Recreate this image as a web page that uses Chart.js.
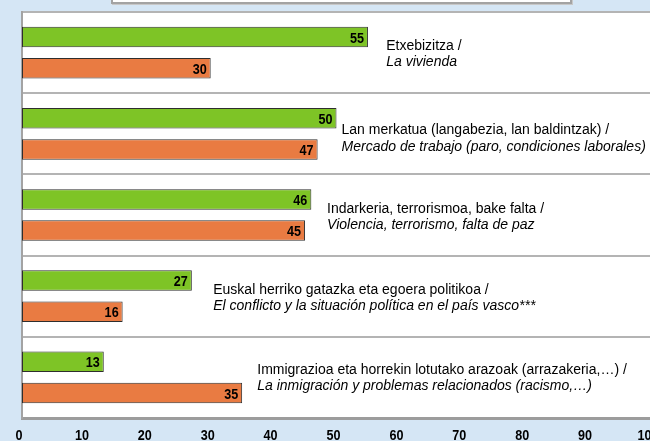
<!DOCTYPE html>
<html>
<head>
<meta charset="utf-8">
<script src="https://cdn.jsdelivr.net/npm/chart.js@4/dist/chart.umd.min.js"></script>
<style>
  html, body { margin:0; padding:0; width:650px; height:441px; overflow:hidden; background:#d5e6f5; }
  #wrap { position:absolute; left:0; top:0; width:660px; height:441px; }
  #legendBox { position:absolute; left:111px; top:-12px; width:457px; height:12px; background:#fff;
    border:2px solid #a3a3a3; box-shadow:1px 1px 0 #c8c8c8; }
</style>
</head>
<body>
<div id="wrap"><canvas id="c" width="660" height="441"></canvas></div>
<div id="legendBox"></div>
<script>
// ---- data ----
const categoriesEu = [
  "Etxebizitza /",
  "Lan merkatua (langabezia, lan baldintzak) /",
  "Indarkeria, terrorismoa, bake falta /",
  "Euskal herriko gatazka eta egoera politikoa /",
  "Immigrazioa eta horrekin lotutako arazoak (arrazakeria,…) /"
];
const categoriesEs = [
  "La vivienda",
  "Mercado de trabajo (paro, condiciones laborales)",
  "Violencia, terrorismo, falta de paz",
  "El conflicto y la situación política en el país vasco***",
  "La inmigración y problemas relacionados (racismo,…)"
];
const greenValues  = [55, 50, 46, 27, 13];
const orangeValues = [30, 47, 45, 16, 35];
const xTickValues  = [0, 10, 20, 30, 40, 50, 60, 70, 80, 90, 100];

// ---- label placement (axis units / pixel offsets) ----
const labelAnchorX = [57.9, 50.8, 48.5, 30.4, 37.4];
const labelDy1 = [-6.5, -3.5, -6, -6, -7];
const labelDy2 = [9.5, 13.5, 10, 10, 9];

const REG = "'Liberation Sans', Arial, sans-serif";
const NARROW_SX = 0.84;

const bgPlugin = {
  id: 'bg',
  beforeDraw(chart) {
    const {ctx, chartArea:a} = chart;
    ctx.save();
    ctx.fillStyle = '#d5e6f5';
    ctx.fillRect(0, 0, chart.width, chart.height);
    ctx.fillStyle = '#ffffff';
    ctx.fillRect(a.left, a.top, a.right - a.left, a.bottom - a.top);
    ctx.restore();
  }
};

function narrowText(ctx, txt, x, y) {
  ctx.save();
  ctx.translate(x, y);
  ctx.scale(NARROW_SX, 1);
  ctx.fillText(txt, 0, 0);
  ctx.restore();
}

const labelPlugin = {
  id: 'labels',
  afterDatasetsDraw(chart) {
    const ctx = chart.ctx;
    const xs = chart.scales.x, ys = chart.scales.y;
    ctx.save();
    ctx.fillStyle = '#000';
    // value labels (condensed bold)
    ctx.font = "bold 15px " + REG;
    ctx.textAlign = 'right';
    ctx.textBaseline = 'middle';
    chart.data.datasets.forEach((ds, di) => {
      chart.getDatasetMeta(di).data.forEach((bar, i) => {
        narrowText(ctx, String(ds.data[i]), bar.x - 4, bar.y + 1.5);
      });
    });
    // x tick labels (condensed bold)
    ctx.textAlign = 'center';
    ctx.textBaseline = 'middle';
    ctx.font = "bold 15px " + REG;
    xs.ticks.forEach(t => {
      narrowText(ctx, String(t.value), xs.getPixelForValue(t.value) - 3, xs.top + 18);
    });
    // category labels
    ctx.textAlign = 'left';
    ctx.textBaseline = 'middle';
    categoriesEu.forEach((t, i) => {
      const x = xs.getPixelForValue(labelAnchorX[i]);
      const yc = ys.getPixelForValue(i);
      ctx.font = "14px " + REG;
      ctx.fillText(t, x, yc + labelDy1[i]);
      ctx.font = "italic 14px " + REG;
      ctx.fillText(categoriesEs[i], x, yc + labelDy2[i]);
    });
    ctx.restore();
  }
};

new Chart(document.getElementById('c'), {
  type: 'bar',
  data: {
    labels: categoriesEu,
    datasets: [
      { label: 'A', data: greenValues, backgroundColor: '#7ec426', borderColor: '#2e2e2e', borderWidth: 1, borderSkipped: false },
      { label: 'B', data: orangeValues, backgroundColor: '#e97b42', borderColor: '#2e2e2e', borderWidth: 1, borderSkipped: false }
    ]
  },
  options: {
    indexAxis: 'y',
    responsive: false,
    animation: false,
    devicePixelRatio: 1,
    layout: { padding: { top: 12, right: 9, left: 0, bottom: 0 } },
    datasets: { bar: { categoryPercentage: 0.768, barPercentage: 0.657 } },
    plugins: { legend: { display: false }, tooltip: { enabled: false } },
    scales: {
      x: {
        min: 0, max: 100,
        afterBuildTicks(scale) { scale.ticks = xTickValues.map(v => ({ value: v })); },
        afterFit(scale) { scale.height = 23; scale.paddingLeft = 0; scale.paddingRight = 0; },
        grid: { display: false, drawTicks: false },
        border: { display: true, color: '#9c9c9c', width: 3 },
        ticks: { display: false }
      },
      y: {
        afterFit(scale) { scale.width = 22; scale.paddingTop = 0; scale.paddingBottom = 0; },
        grid: { color: '#b4b4b4', lineWidth: 2, drawTicks: false, offset: true },
        border: { display: true, color: '#a3a3a3', width: 2 },
        ticks: { display: false }
      }
    }
  },
  plugins: [bgPlugin, labelPlugin]
});
</script>
</body>
</html>
